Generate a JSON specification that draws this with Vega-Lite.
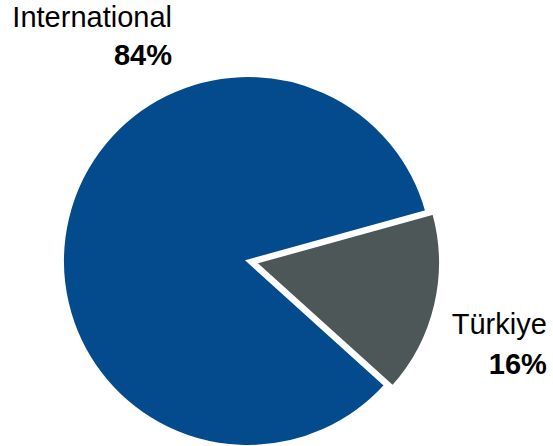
{
  "$schema": "https://vega.github.io/schema/vega-lite/v6.json",
  "width": 370,
  "height": 370,
  "autosize": {"type": "none"},
  "padding": {"left": 63, "top": 76, "right": 120, "bottom": 0},
  "background": "white",
  "view": {"stroke": null},
  "data": {"values": [
    {"category": "International", "share": 0.84},
    {"category": "Türkiye", "share": 0.16}
  ]},
  "encoding": {
    "theta": {"field": "share", "type": "quantitative", "stack": true, "scale": {"range": [1.3, 7.5832]}},
    "order": {"field": "share", "type": "quantitative", "sort": "ascending"}
  },
  "layer": [
    {
      "mark": {"type": "arc", "outerRadius": 185.5, "stroke": "white", "strokeWidth": 3},
      "encoding": {
        "color": {"field": "category", "type": "nominal", "scale": {"domain": ["International", "Türkiye"], "range": ["#034b8d", "#4e5758"]}, "legend": null},
        "opacity": {"condition": {"test": "datum.category === 'International'", "value": 1}, "value": 0}
      }
    },
    {
      "mark": {"type": "arc", "outerRadius": 185.5, "stroke": "white", "strokeWidth": 3, "xOffset": 7, "yOffset": 1.6},
      "encoding": {
        "color": {"field": "category", "type": "nominal", "legend": null},
        "opacity": {"condition": {"test": "datum.category === 'Türkiye'", "value": 1}, "value": 0}
      }
    },
    {
      "mark": {"type": "text", "radius": 228, "thetaOffset": 0.999, "align": "right", "baseline": "alphabetic", "dy": -19, "font": "Liberation Sans", "fontSize": 29, "color": "black"},
      "encoding": {
        "detail": {"field": "category", "type": "nominal"},
        "text": {"condition": {"test": "datum.category === 'International'", "field": "category", "type": "nominal"}, "value": ""}
      }
    },
    {
      "mark": {"type": "text", "radius": 228, "thetaOffset": 0.999, "align": "right", "baseline": "alphabetic", "dy": 19, "font": "Liberation Sans", "fontSize": 29, "fontWeight": "bold", "color": "black"},
      "encoding": {
        "detail": {"field": "category", "type": "nominal"},
        "text": {"condition": {"test": "datum.category === 'International'", "field": "share", "type": "quantitative", "format": ".0%"}, "value": ""}
      }
    },
    {
      "mark": {"type": "text", "radius": 313, "thetaOffset": 0.07, "align": "right", "baseline": "alphabetic", "dy": -20, "font": "Liberation Sans", "fontSize": 29, "color": "black"},
      "encoding": {
        "detail": {"field": "category", "type": "nominal"},
        "text": {"condition": {"test": "datum.category === 'Türkiye'", "field": "category", "type": "nominal"}, "value": ""}
      }
    },
    {
      "mark": {"type": "text", "radius": 313, "thetaOffset": 0.07, "align": "right", "baseline": "alphabetic", "dy": 20, "font": "Liberation Sans", "fontSize": 29, "fontWeight": "bold", "color": "black"},
      "encoding": {
        "detail": {"field": "category", "type": "nominal"},
        "text": {"condition": {"test": "datum.category === 'Türkiye'", "field": "share", "type": "quantitative", "format": ".0%"}, "value": ""}
      }
    }
  ]
}
